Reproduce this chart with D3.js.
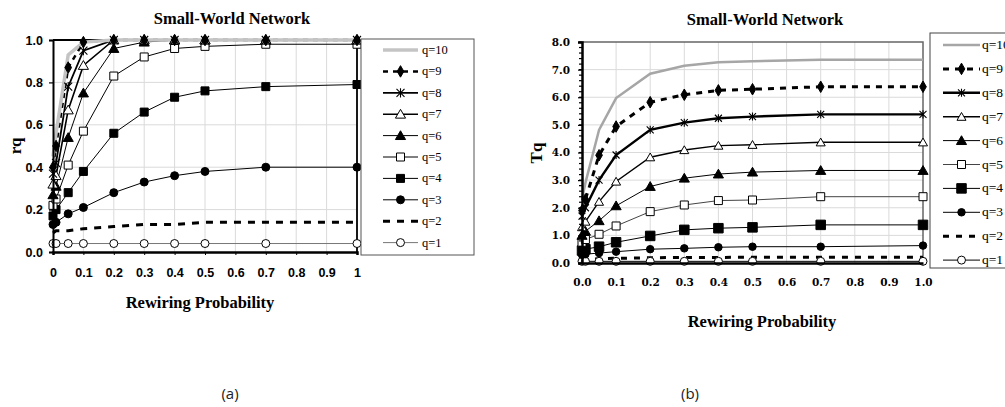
<!DOCTYPE html>
<html>
<head>
<meta charset="utf-8">
<script src="https://cdn.jsdelivr.net/npm/d3@7"></script>
<style>
  html, body { margin: 0; padding: 0; background: #fff; }
  svg { display: block; }
</style>
</head>
<body>
<svg id="chart" width="1005" height="407"></svg>
<script>
// Rewiring probabilities sampled in both experiments
const rewiring = [0, 0.01, 0.05, 0.1, 0.2, 0.3, 0.4, 0.5, 0.7, 1.0];
const seriesNames = ["q=10", "q=9", "q=8", "q=7", "q=6", "q=5", "q=4", "q=3", "q=2", "q=1"];

// Panel (a): rq
const rq10 = [0.45, 0.56, 0.93, 0.99, 1.00, 1.00, 1.00, 1.00, 1.00, 1.00];
const rq9  = [0.40, 0.50, 0.87, 0.99, 1.00, 1.00, 1.00, 1.00, 1.00, 1.00];
const rq8  = [0.37, 0.42, 0.78, 0.95, 1.00, 1.00, 1.00, 1.00, 1.00, 1.00];
const rq7  = [0.32, 0.36, 0.67, 0.88, 1.00, 1.00, 1.00, 1.00, 1.00, 1.00];
const rq6  = [0.27, 0.31, 0.54, 0.75, 0.96, 0.99, 1.00, 1.00, 1.00, 1.00];
const rq5  = [0.22, 0.25, 0.41, 0.57, 0.83, 0.92, 0.96, 0.97, 0.98, 0.98];
const rq4  = [0.17, 0.20, 0.28, 0.38, 0.56, 0.66, 0.73, 0.76, 0.78, 0.79];
const rq3  = [0.13, 0.14, 0.18, 0.21, 0.28, 0.33, 0.36, 0.38, 0.40, 0.40];
const rq2  = [0.09, 0.10, 0.10, 0.11, 0.12, 0.13, 0.13, 0.14, 0.14, 0.14];
const rq1  = [0.04, 0.04, 0.04, 0.04, 0.04, 0.04, 0.04, 0.04, 0.04, 0.04];

// Panel (b): Tq
const tq10 = [2.30, 2.90, 4.82, 5.97, 6.85, 7.14, 7.27, 7.30, 7.36, 7.36];
const tq9  = [1.90, 2.30, 3.90, 4.94, 5.82, 6.09, 6.25, 6.29, 6.38, 6.38];
const tq8  = [1.70, 2.00, 3.00, 3.91, 4.82, 5.08, 5.24, 5.30, 5.38, 5.38];
const tq7  = [1.30, 1.50, 2.22, 2.95, 3.83, 4.09, 4.25, 4.28, 4.37, 4.37];
const tq6  = [1.00, 1.15, 1.53, 2.07, 2.77, 3.07, 3.22, 3.29, 3.35, 3.35];
const tq5  = [0.75, 0.85, 1.04, 1.34, 1.86, 2.10, 2.26, 2.28, 2.40, 2.40];
const tq4  = [0.45, 0.50, 0.59, 0.75, 0.98, 1.20, 1.26, 1.29, 1.38, 1.38];
const tq3  = [0.30, 0.32, 0.36, 0.41, 0.50, 0.53, 0.57, 0.59, 0.59, 0.63];
const tq2  = [0.12, 0.13, 0.15, 0.17, 0.19, 0.20, 0.20, 0.21, 0.21, 0.21];
const tq1  = [0.06, 0.06, 0.06, 0.06, 0.06, 0.06, 0.06, 0.06, 0.06, 0.06];

// Tick labels
const xTicksA = [0, 0.1, 0.2, 0.3, 0.4, 0.5, 0.6, 0.7, 0.8, 0.9, 1];
const yTicksA = [0, 0.2, 0.4, 0.6, 0.8, 1.0];
const xTicksB = [0, 0.1, 0.2, 0.3, 0.4, 0.5, 0.6, 0.7, 0.8, 0.9, 1.0];
const yTicksB = [0, 1, 2, 3, 4, 5, 6, 7, 8];

const svg = d3.select("#chart");
const SERIF_T = "'Liberation Serif', 'Times New Roman', serif";
const SERIF_N = "'DejaVu Serif', serif";
const SANS = "'Liberation Sans', Arial, sans-serif";

// Marker glyphs
function drawMarker(g, type, x, y, s) {
  if (!type) return;
  if (type === "asterisk") {
    const r = s * 0.5;
    g.append("path")
      .attr("d", `M${x - r},${y - r}L${x + r},${y + r}M${x - r},${y + r}L${x + r},${y - r}M${x},${y - r * 1.15}L${x},${y + r * 1.15}`)
      .attr("stroke", "#000").attr("stroke-width", 1.1).attr("fill", "none");
    return;
  }
  const kinds = {
    diamond: [d3.symbolDiamond, "#000"],
    triOpen: [d3.symbolTriangle, "#fff"],
    triFilled: [d3.symbolTriangle, "#000"],
    sqOpen: [d3.symbolSquare, "#fff"],
    sqFilled: [d3.symbolSquare, "#000"],
    circFilled: [d3.symbolCircle, "#000"],
    circOpen: [d3.symbolCircle, "#fff"]
  };
  const [sym, fill] = kinds[type];
  let area = s * s;
  if (sym === d3.symbolDiamond) area = s * s * 0.6;
  if (sym === d3.symbolTriangle) area = s * s * 0.55;
  if (sym === d3.symbolCircle) area = s * s * 0.785;
  g.append("path")
    .attr("d", d3.symbol().type(sym).size(area)())
    .attr("transform", `translate(${x},${y + (sym === d3.symbolTriangle ? 1 : 0)})`)
    .attr("fill", fill).attr("stroke", "#000").attr("stroke-width", 1);
}

function drawPanel(cfg) {
  const g = svg.append("g");
  const x = d3.scaleLinear().domain([0, 1]).range([cfg.x0, cfg.x1]);
  const y = d3.scaleLinear().domain([0, cfg.yMax]).range([cfg.y0, cfg.y1]);

  // gridlines
  g.append("g").selectAll("line").data(cfg.xTicks.slice(1, -1)).join("line")
    .attr("x1", d => x(d)).attr("x2", d => x(d))
    .attr("y1", cfg.y0).attr("y2", cfg.y1)
    .attr("stroke", "#dadada").attr("stroke-width", 1);
  g.append("g").selectAll("line").data(cfg.yTicks.slice(1, -1)).join("line")
    .attr("x1", cfg.x0).attr("x2", cfg.x1)
    .attr("y1", d => y(d)).attr("y2", d => y(d))
    .attr("stroke", "#dadada").attr("stroke-width", 1);

  // plot frame (top and right)
  g.append("path")
    .attr("d", `M${cfg.x0},${cfg.y1}H${cfg.x1}V${cfg.y0}`)
    .attr("fill", "none").attr("stroke", cfg.frameColor).attr("stroke-width", cfg.frameWidth);

  // series lines, then markers on top
  const line = d3.line().x((d, i) => x(rewiring[i])).y(d => y(d));
  cfg.series.slice().reverse().forEach(s => {
    g.append("path").datum(s.values)
      .attr("d", line)
      .attr("fill", "none")
      .attr("stroke", s.color)
      .attr("stroke-width", s.width)
      .attr("stroke-dasharray", s.dash || null);
  });
  cfg.series.slice().reverse().forEach(s => {
    if (!s.marker) return;
    const mg = g.append("g");
    s.values.forEach((v, i) => drawMarker(mg, s.marker, x(rewiring[i]), y(v), s.msize));
  });

  // axes
  const xAxis = d3.axisBottom(x).tickValues(cfg.xTicks).tickSize(cfg.xTickSize)
    .tickPadding(cfg.xPad).tickFormat(cfg.xFormat);
  const xa = g.append("g").attr("transform", `translate(0,${cfg.y0})`).call(xAxis);
  xa.select(".domain").attr("stroke", "#000").attr("stroke-width", 2.5);
  xa.selectAll(".tick line").attr("stroke", "#000");
  xa.selectAll(".tick text")
    .attr("font-family", cfg.tickFont).attr("font-weight", "bold")
    .attr("font-size", cfg.tickSize).attr("fill", "#000");

  const yAxis = d3.axisLeft(y).tickValues(cfg.yTicks).tickSize(cfg.yTickLen)
    .tickPadding(cfg.yPad).tickFormat(d3.format(".1f"));
  const ya = g.append("g").attr("transform", `translate(${cfg.x0},0)`).call(yAxis);
  ya.select(".domain").attr("stroke", "#000").attr("stroke-width", cfg.yAxisWidth);
  ya.selectAll(".tick line").attr("stroke", "#000").attr("stroke-width", 1.2);
  ya.selectAll(".tick text")
    .attr("font-family", cfg.tickFont).attr("font-weight", "bold")
    .attr("font-size", cfg.tickSize).attr("fill", "#000");

  if (cfg.minorTicks) {
    const minor = d3.range(0, cfg.yMax + 1e-9, cfg.minorTicks);
    g.append("g").selectAll("line").data(minor).join("line")
      .attr("x1", cfg.x0 - 3).attr("x2", cfg.x0)
      .attr("y1", d => y(d)).attr("y2", d => y(d))
      .attr("stroke", "#000").attr("stroke-width", 1.2);
  }

  // titles
  g.append("text").attr("x", cfg.titleX).attr("y", cfg.titleY)
    .attr("text-anchor", "middle").attr("font-family", SERIF_T)
    .attr("font-weight", "bold").attr("font-size", 16.5).text("Small-World Network");
  g.append("text").attr("x", cfg.xTitleX).attr("y", cfg.xTitleY)
    .attr("text-anchor", "middle").attr("font-family", SERIF_T)
    .attr("font-weight", "bold").attr("font-size", 16.5).text("Rewiring Probability");
  g.append("text")
    .attr("transform", `translate(${cfg.yTitleX},${cfg.yTitleY}) rotate(-90)`)
    .attr("text-anchor", "middle").attr("font-family", SERIF_T)
    .attr("font-weight", "bold").attr("font-size", 17).text(cfg.yTitle);

  // legend
  const L = cfg.legend;
  g.append("rect").attr("x", L.x).attr("y", L.y).attr("width", L.w).attr("height", L.h)
    .attr("fill", "#fff").attr("stroke", L.stroke).attr("stroke-width", 1);
  cfg.series.forEach((s, i) => {
    const ly = L.firstY + i * L.step;
    g.append("line").attr("x1", L.lx0).attr("x2", L.lx1).attr("y1", ly).attr("y2", ly)
      .attr("stroke", s.color).attr("stroke-width", s.width)
      .attr("stroke-dasharray", s.dash || null);
    drawMarker(g.append("g"), s.marker, (L.lx0 + L.lx1) / 2, ly, s.msize);
    g.append("text").attr("x", L.tx).attr("y", ly + 4)
      .attr("font-family", SERIF_T).attr("font-size", L.fs).attr("fill", "#000")
      .text(s.name);
  });

  // caption
  g.append("text").attr("x", cfg.capX).attr("y", 399)
    .attr("text-anchor", "middle").attr("font-family", "'Open Sans', 'Noto Sans', sans-serif")
    .attr("font-size", 15).attr("fill", "#222").text(cfg.caption);
}

drawPanel({
  x0: 53, x1: 357, y0: 252, y1: 40, yMax: 1.0,
  xTicks: xTicksA, yTicks: yTicksA,
  xFormat: d => (d === 0 || d === 1) ? String(d) : d3.format(".1f")(d),
  xTickSize: 3, xPad: 13, yTickLen: 4, yPad: 6, yAxisWidth: 2,
  tickFont: SANS, tickSize: 12.5,
  frameColor: "#000", frameWidth: 1.8,
  titleX: 232, titleY: 24, xTitleX: 200, xTitleY: 308,
  yTitle: "rq", yTitleX: 21, yTitleY: 146,
  caption: "(a)", capX: 230,
  legend: { x: 361, y: 39, w: 113, h: 216, stroke: "#555", firstY: 50, step: 21.4,
            lx0: 383, lx1: 418, tx: 422, fs: 12.5 },
  series: [
    { name: seriesNames[0], values: rq10, color: "#c4c4c4", width: 3.5, marker: null, msize: 7 },
    { name: seriesNames[1], values: rq9, color: "#000", width: 2.5, dash: "5,5", marker: "diamond", msize: 8 },
    { name: seriesNames[2], values: rq8, color: "#000", width: 1.8, marker: "asterisk", msize: 8 },
    { name: seriesNames[3], values: rq7, color: "#000", width: 1.6, marker: "triOpen", msize: 9 },
    { name: seriesNames[4], values: rq6, color: "#000", width: 1, marker: "triFilled", msize: 9 },
    { name: seriesNames[5], values: rq5, color: "#000", width: 1, marker: "sqOpen", msize: 8 },
    { name: seriesNames[6], values: rq4, color: "#000", width: 1, marker: "sqFilled", msize: 8 },
    { name: seriesNames[7], values: rq3, color: "#000", width: 1, marker: "circFilled", msize: 8 },
    { name: seriesNames[8], values: rq2, color: "#000", width: 3, dash: "7,7", marker: null, msize: 7 },
    { name: seriesNames[9], values: rq1, color: "#777", width: 1, marker: "circOpen", msize: 8 }
  ]
});

drawPanel({
  x0: 582, x1: 923, y0: 263, y1: 42, yMax: 8,
  xTicks: xTicksB, yTicks: yTicksB,
  xFormat: d3.format(".1f"),
  xTickSize: 0, xPad: 16, yTickLen: 4, yPad: 8, yAxisWidth: 2.5,
  minorTicks: 0.2,
  tickFont: SERIF_N, tickSize: 10.5,
  frameColor: "#666", frameWidth: 1.5,
  titleX: 765, titleY: 25, xTitleX: 762, xTitleY: 327,
  yTitle: "Tq", yTitleX: 542, yTitleY: 153,
  caption: "(b)", capX: 690,
  legend: { x: 930, y: 33, w: 90, h: 235, stroke: "#444", firstY: 45, step: 23.9,
            lx0: 943, lx1: 980, tx: 982, fs: 13.5 },
  series: [
    { name: seriesNames[0], values: tq10, color: "#a6a6a6", width: 2.5, marker: null, msize: 7 },
    { name: seriesNames[1], values: tq9, color: "#000", width: 3, dash: "6,6", marker: "diamond", msize: 8 },
    { name: seriesNames[2], values: tq8, color: "#000", width: 2.4, marker: "asterisk", msize: 7 },
    { name: seriesNames[3], values: tq7, color: "#000", width: 1.4, marker: "triOpen", msize: 8 },
    { name: seriesNames[4], values: tq6, color: "#000", width: 1, marker: "triFilled", msize: 9 },
    { name: seriesNames[5], values: tq5, color: "#444", width: 1, marker: "sqOpen", msize: 8 },
    { name: seriesNames[6], values: tq4, color: "#000", width: 1, marker: "sqFilled", msize: 9.5 },
    { name: seriesNames[7], values: tq3, color: "#000", width: 1, marker: "circFilled", msize: 7.5 },
    { name: seriesNames[8], values: tq2, color: "#000", width: 3, dash: "6,7", marker: null, msize: 7 },
    { name: seriesNames[9], values: tq1, color: "#000", width: 1, marker: "circOpen", msize: 8 }
  ]
});
</script>
</body>
</html>
